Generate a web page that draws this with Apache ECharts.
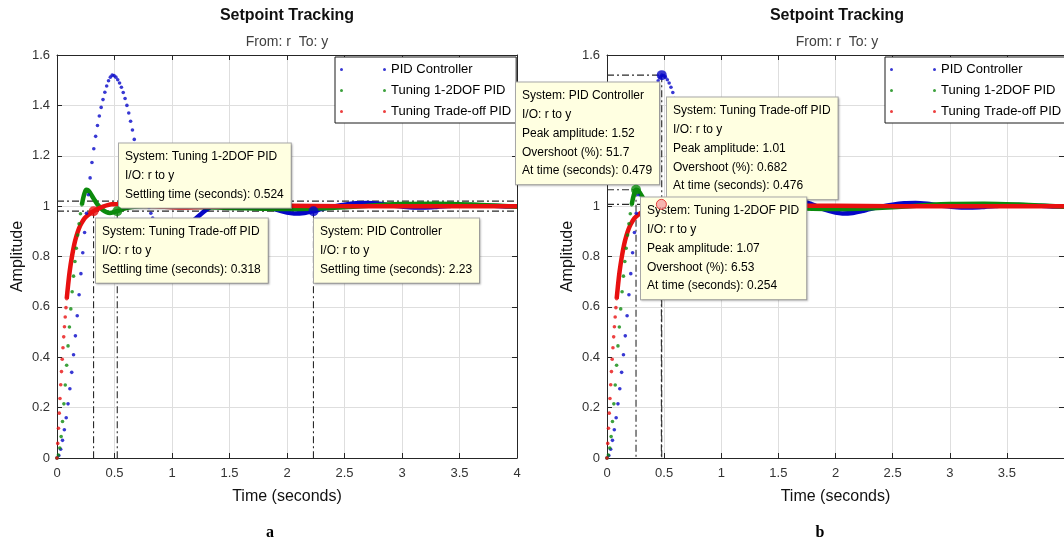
<!DOCTYPE html>
<html><head><meta charset="utf-8">
<script src="https://cdn.jsdelivr.net/npm/echarts@6/dist/echarts.min.js"></script>
<style>html,body{margin:0;padding:0;background:#fff}#c{width:1064px;height:544px}</style>
</head><body><div id="c"></div>
<script>
// ---------- data ----------
const seriesNames = ['PID Controller', 'Tuning 1-2DOF PID', 'Tuning Trade-off PID'];
const xTicks = [0, 0.5, 1, 1.5, 2, 2.5, 3, 3.5, 4];
const yTicks = [0, 0.2, 0.4, 0.6, 0.8, 1, 1.2, 1.4, 1.6];

// PID Controller: sampled response (time step pidDt) and slow tail [t, y]
const pidDt = 0.016;
const pidHead = [0.000, 0.010, 0.035, 0.070, 0.112, 0.160, 0.215, 0.275, 0.340, 0.410,
  0.485, 0.565, 0.648, 0.732, 0.815, 0.895, 0.972, 1.045, 1.112, 1.173,
  1.228, 1.277, 1.320, 1.358, 1.392, 1.423, 1.452, 1.477, 1.498, 1.512,
  1.520, 1.518, 1.512, 1.502, 1.489, 1.472, 1.451, 1.427, 1.400, 1.370,
  1.337, 1.302, 1.265, 1.227, 1.188, 1.149, 1.111, 1.076, 1.046, 1.020,
  0.995, 0.972, 0.953, 0.936, 0.922, 0.910];
const pidTail = [[0.88, 0.910], [0.92, 0.893], [0.96, 0.885], [1.0, 0.884], [1.05, 0.891], [1.1, 0.906],
  [1.15, 0.926], [1.2, 0.948], [1.25, 0.968], [1.3, 0.986], [1.35, 1.0], [1.4, 1.011], [1.5, 1.024],
  [1.6, 1.028], [1.7, 1.022], [1.8, 1.006], [1.9, 0.987], [2.0, 0.974], [2.06, 0.971], [2.15, 0.973],
  [2.23, 0.980], [2.3, 0.988], [2.4, 0.998], [2.5, 1.006], [2.6, 1.011], [2.7, 1.012], [2.8, 1.009],
  [2.9, 1.003], [3.0, 0.998], [3.1, 0.995], [3.2, 0.995], [3.3, 0.997], [3.4, 1.0], [3.5, 1.003],
  [3.6, 1.004], [3.7, 1.003], [3.8, 1.001], [3.9, 0.999], [4.0, 0.999]];

// Tuning 1-2DOF PID
const dofDt = 0.012;
const dofHead = [0.000, 0.012, 0.040, 0.085, 0.145, 0.215, 0.290, 0.368, 0.445, 0.520,
  0.592, 0.660, 0.722, 0.780, 0.833, 0.885, 0.930, 0.970, 1.005];
const dofTail = [[0.216, 1.005], [0.228, 1.032], [0.240, 1.052], [0.254, 1.065], [0.268, 1.064],
  [0.285, 1.055], [0.31, 1.036], [0.33, 1.022], [0.35, 1.008], [0.37, 0.997], [0.40, 0.984],
  [0.43, 0.976], [0.46, 0.973], [0.49, 0.975], [0.524, 0.980], [0.57, 0.988], [0.65, 0.996],
  [0.75, 1.0], [0.9, 1.001], [1.1, 0.999], [1.3, 0.996], [1.5, 0.993], [1.8, 0.990], [2.0, 0.989],
  [2.2, 0.990], [2.5, 0.996], [2.8, 1.004], [3.0, 1.008], [3.3, 1.009], [3.6, 1.006], [3.8, 1.002],
  [4.0, 0.998]];

// Tuning Trade-off PID
const tradeDt = 0.0065;
const tradeHead = [0.000, 0.058, 0.118, 0.178, 0.236, 0.291, 0.343, 0.392, 0.438, 0.481,
  0.521, 0.560, 0.597, 0.632];
const tradeTail = [[0.0845, 0.632], [0.095, 0.68], [0.11, 0.74], [0.13, 0.80], [0.15, 0.848],
  [0.17, 0.883], [0.19, 0.91], [0.21, 0.93], [0.24, 0.952], [0.28, 0.968], [0.318, 0.98],
  [0.36, 0.99], [0.40, 0.998], [0.44, 1.004], [0.476, 1.007], [0.52, 1.007], [0.6, 1.005],
  [0.7, 1.002], [0.8, 1.0], [0.9, 0.998], [1.0, 0.996], [1.1, 0.995], [1.2, 0.996], [1.4, 0.999],
  [1.6, 1.001], [2.0, 1.001], [2.5, 1.0], [3.0, 1.0], [3.5, 1.0], [4.0, 1.0]];

// characteristics
const settlingTimes = [2.23, 0.524, 0.318];
const settlingLevel = 0.98;
const bandLevels = [1.02, 0.98];
const peakTimes = [0.479, 0.254, 0.476];
const peakAmps = [1.52, 1.065, 1.007];

// data tip texts
const settleTips = [
  ['System: Tuning 1-2DOF PID', 'I/O: r to y', 'Settling time (seconds): 0.524'],
  ['System: Tuning Trade-off PID', 'I/O: r to y', 'Settling time (seconds): 0.318'],
  ['System: PID Controller', 'I/O: r to y', 'Settling time (seconds): 2.23']];
const peakTips = [
  ['System: PID Controller', 'I/O: r to y', 'Peak amplitude: 1.52', 'Overshoot (%): 51.7', 'At time (seconds): 0.479'],
  ['System: Tuning Trade-off PID', 'I/O: r to y', 'Peak amplitude: 1.01', 'Overshoot (%): 0.682', 'At time (seconds): 0.476'],
  ['System: Tuning 1-2DOF PID', 'I/O: r to y', 'Peak amplitude: 1.07', 'Overshoot (%): 6.53', 'At time (seconds): 0.254']];

// ---------- chart ----------
const FONT = '"Liberation Sans", Arial, Helvetica, sans-serif';
const colors = ['#0606c8', '#0c8a0c', '#e81010'];
const curves = [
  {name: seriesNames[0], dt: pidDt, head: pidHead, tail: pidTail, color: colors[0]},
  {name: seriesNames[1], dt: dofDt, head: dofHead, tail: dofTail, color: colors[1]},
  {name: seriesNames[2], dt: tradeDt, head: tradeHead, tail: tradeTail, color: colors[2]}];

const xMin = xTicks[0], xMax = xTicks[xTicks.length - 1], xInt = xTicks[1] - xTicks[0];
const yMin = yTicks[0], yMax = yTicks[yTicks.length - 1], yInt = 0.2;
const axisColor = '#262626';

const grids = [
  {left: 57, top: 55, width: 460, height: 403},
  {left: 607, top: 55, width: 460, height: 403}];

function xAx(g, top) {
  return {
    type: 'value', gridIndex: g, position: top ? 'top' : 'bottom', min: xMin, max: xMax, interval: xInt,
    axisLine: {show: true, onZero: false, lineStyle: {color: axisColor, width: 1}},
    axisTick: {show: true, inside: true, length: 5, lineStyle: {color: axisColor}},
    splitLine: {show: !top, lineStyle: {color: '#dedede', width: 1}},
    axisLabel: {show: !top, fontSize: 13, color: '#333', fontFamily: FONT, margin: 9,
      showMaxLabel: g === 0},
    name: top ? '' : 'Time (seconds)', nameLocation: 'middle', nameGap: 31,
    nameTextStyle: {fontSize: 16, color: '#111', fontFamily: FONT}
  };
}
function yAx(g, right) {
  return {
    type: 'value', gridIndex: g, position: right ? 'right' : 'left', min: yMin, max: yMax, interval: yInt,
    axisLine: {show: true, onZero: false, lineStyle: {color: axisColor, width: 1}},
    axisTick: {show: true, inside: true, length: 5, lineStyle: {color: axisColor}},
    splitLine: {show: !right, lineStyle: {color: '#dedede', width: 1}},
    axisLabel: {show: !right, fontSize: 13, color: '#333', fontFamily: FONT, margin: 7,
      formatter: v => String(+v.toFixed(1))},
    name: right ? '' : 'Amplitude', nameLocation: 'middle', nameGap: 31,
    nameTextStyle: {fontSize: 16, color: '#111', fontFamily: FONT}
  };
}

function buildSeries(g) {
  const xi = 2 * g, yi = 2 * g;
  const out = [];
  const refStyle = {color: '#2a2a2a', width: 1.1, type: [7, 3, 2, 3]};
  const seg = pts => out.push({type: 'line', xAxisIndex: xi, yAxisIndex: yi, data: pts,
    showSymbol: false, symbol: 'none', lineStyle: refStyle, z: 1, silent: true});
  if (g === 0) {
    bandLevels.forEach(b => seg([[xMin, b], [xMax, b]]));
    settlingTimes.forEach(t => seg([[t, settlingLevel], [t, 0]]));
  } else {
    peakTimes.forEach((t, i) => {
      seg([[0, peakAmps[i]], [t, peakAmps[i]]]);
      seg([[t, peakAmps[i]], [t, 0]]);
    });
  }
  curves.forEach(c => {
    out.push({type: 'scatter', name: c.name, xAxisIndex: xi, yAxisIndex: yi,
      data: c.head.map((y, i) => [i * c.dt, y]), symbol: 'circle', symbolSize: 3.6,
      itemStyle: {color: c.color}, z: 3, silent: true});
    out.push({type: 'line', name: c.name, xAxisIndex: xi, yAxisIndex: yi, data: c.tail,
      smooth: 0.3, showSymbol: false, symbol: 'none',
      lineStyle: {color: c.color, width: 4.5}, itemStyle: {color: c.color}, z: 3, silent: true});
  });
  curves.forEach((c, i) => {
    const pt = g === 0 ? [settlingTimes[i], settlingLevel] : [peakTimes[i], peakAmps[i]];
    const hollow = g === 1 && i === 2;
    out.push({type: 'scatter', xAxisIndex: xi, yAxisIndex: yi, data: [pt], symbol: 'circle',
      symbolSize: 10, z: 20, silent: true,
      itemStyle: hollow ? {color: '#f4a2a2', borderColor: '#e41b1b', borderWidth: 1}
                        : {color: c.color}});
  });
  return out;
}

const legendIcon = 'path://M0,1.5a1.5,1.5 0 1,0 3,0a1.5,1.5 0 1,0 -3,0zM43,1.5a1.5,1.5 0 1,0 3,0a1.5,1.5 0 1,0 -3,0z';
function legend(left) {
  return {left: left, top: 57, orient: 'vertical', data: seriesNames, icon: legendIcon,
    itemWidth: 46, itemHeight: 3, itemGap: 6, selectedMode: false,
    backgroundColor: '#fff', borderColor: '#1a1a1a', borderWidth: 1, padding: [5, 5, 4, 5],
    textStyle: {fontSize: 13, color: '#000', fontFamily: FONT, lineHeight: 15}};
}

function tip(lines, x, y) {
  return {type: 'text', x: x, y: y, z: 10, silent: true,
    style: {text: lines.join('\n'), fontSize: 12, fontFamily: FONT, fill: '#000',
      lineHeight: 18.75, align: 'left', verticalAlign: 'top',
      backgroundColor: '#ffffe1', borderColor: '#a9a9a9', borderWidth: 1, padding: [4, 7, 4, 6],
      shadowColor: 'rgba(0,0,0,0.18)', shadowBlur: 2, shadowOffsetX: 1, shadowOffsetY: 1}};
}
function label(text, x, y, size, weight, color, family) {
  return {type: 'text', x: x, y: y, z: 10, silent: true,
    style: {text: text, fontSize: size, fontWeight: weight, fill: color, fontFamily: family || FONT,
      align: 'center', verticalAlign: 'middle'}};
}

const graphics = [
  label('Setpoint Tracking', 287, 16, 16, 'bold', '#111'),
  label('From: r  To: y', 287, 42, 14, 'normal', '#404040'),
  label('Setpoint Tracking', 837, 16, 16, 'bold', '#111'),
  label('From: r  To: y', 837, 42, 14, 'normal', '#404040'),
  label('a', 270, 533, 16, 'bold', '#000', '"Liberation Serif", "Times New Roman", serif'),
  label('b', 820, 533, 16, 'bold', '#000', '"Liberation Serif", "Times New Roman", serif'),
  tip(settleTips[0], 119, 143.6),
  tip(settleTips[1], 96, 218.6),
  tip(settleTips[2], 314, 218.6),
  tip(peakTips[0], 516, 82.6),
  tip(peakTips[1], 667, 97.6),
  tip(peakTips[2], 641, 197.6)
];

const chart = echarts.init(document.getElementById('c'), null, {renderer: 'canvas'});
chart.setOption({
  backgroundColor: '#fff',
  animation: false,
  grid: grids,
  xAxis: [xAx(0, false), xAx(0, true), xAx(1, false), xAx(1, true)],
  yAxis: [yAx(0, false), yAx(0, true), yAx(1, false), yAx(1, true)],
  legend: [legend(335), legend(885)],
  series: [].concat(buildSeries(0), buildSeries(1)),
  graphic: graphics
});
</script></body></html>
